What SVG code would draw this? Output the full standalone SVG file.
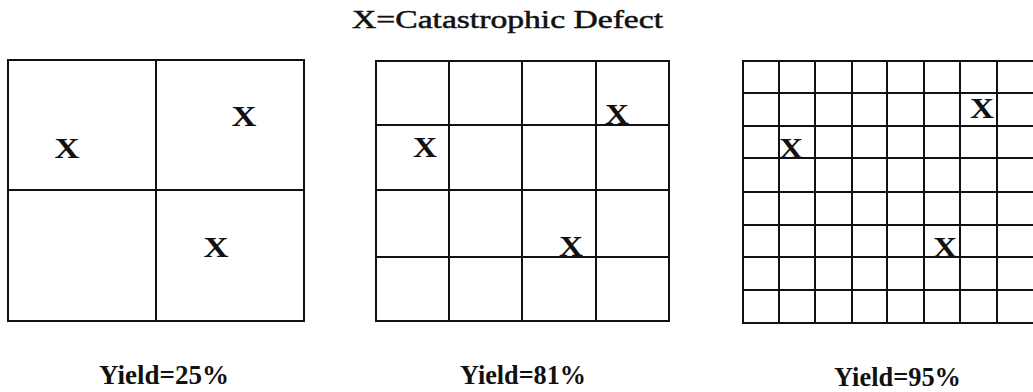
<svg xmlns="http://www.w3.org/2000/svg" width="1033" height="392" viewBox="0 0 1033 392">
<style>
.g{fill:none;stroke:#111;stroke-width:2}
.x{font-family:"Liberation Serif",serif;font-weight:bold;font-size:30px;fill:#111;text-anchor:middle}
.t{font-family:"Liberation Serif",serif;font-size:25px;fill:#111;stroke:#111;stroke-width:0.5}
.y{font-family:"Liberation Serif",serif;font-weight:bold;font-size:28px;fill:#111}
</style>
<rect width="1033" height="392" fill="#fff"/>
<text class="t" x="352" y="28" textLength="311" lengthAdjust="spacingAndGlyphs">X=Catastrophic Defect</text>
<g id="grid1">
<rect class="g" x="8" y="60" width="296" height="261"/>
<path class="g" d="M156 60V321M8 190H304"/>
<text class="x" x="67" y="158" textLength="25" lengthAdjust="spacingAndGlyphs">X</text>
<text class="x" x="244" y="126" textLength="25" lengthAdjust="spacingAndGlyphs">X</text>
<text class="x" x="216" y="257" textLength="25" lengthAdjust="spacingAndGlyphs">X</text>
<text class="y" x="99" y="384" textLength="130" lengthAdjust="spacingAndGlyphs">Yield=25%</text>
</g>
<g id="grid2">
<rect class="g" x="376" y="61" width="293" height="260"/>
<path class="g" d="M449 61V321M522 61V321M596 61V321M376 125H669M376 190H669M376 257H669"/>
<text class="x" x="425" y="157" textLength="24" lengthAdjust="spacingAndGlyphs">X</text>
<text class="x" x="617" y="124" textLength="24" lengthAdjust="spacingAndGlyphs">X</text>
<text class="x" x="571" y="256" textLength="24" lengthAdjust="spacingAndGlyphs">X</text>
<text class="y" x="460" y="384" textLength="126" lengthAdjust="spacingAndGlyphs">Yield=81%</text>
</g>
<g id="grid3">
<path class="g" d="M1033 61H743V323H1033"/>
<path class="g" d="M779 61V323M815 61V323M852 61V323M887 61V323M924 61V323M960 61V323M997 61V323M743 93H1033M743 126H1033M743 158H1033M743 192H1033M743 225H1033M743 257H1033M743 290H1033"/>
<text class="x" x="791" y="158" textLength="24" lengthAdjust="spacingAndGlyphs">X</text>
<text class="x" x="982" y="118" textLength="24" lengthAdjust="spacingAndGlyphs">X</text>
<text class="x" x="945" y="257" textLength="24" lengthAdjust="spacingAndGlyphs">X</text>
<text class="y" x="834" y="386" textLength="127" lengthAdjust="spacingAndGlyphs">Yield=95%</text>
</g>
</svg>
